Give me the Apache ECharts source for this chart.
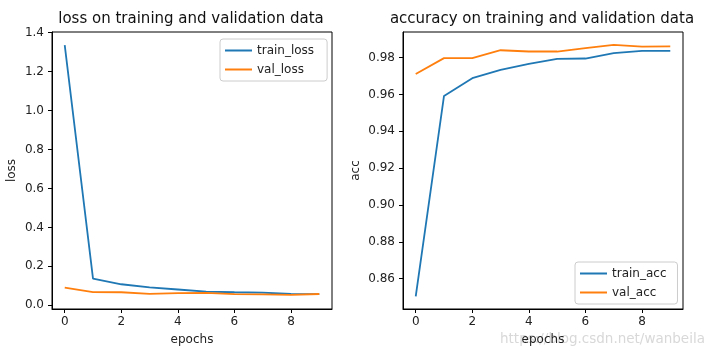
<!DOCTYPE html>
<html>
<head>
<meta charset="utf-8">
<script src="https://cdn.jsdelivr.net/npm/echarts@6/dist/echarts.min.js"></script>
<style>html,body{margin:0;padding:0;background:#fff}#c{width:710px;height:355px}</style>
</head>
<body>
<div id="c"></div>
<script>
var epochs = [0, 1, 2, 3, 4, 5, 6, 7, 8, 9];
var trainLoss = [1.336, 0.137, 0.108, 0.092, 0.081, 0.070, 0.067, 0.065, 0.058, 0.057];
var valLoss = [0.091, 0.068, 0.067, 0.059, 0.062, 0.064, 0.057, 0.056, 0.053, 0.058];
var trainAcc = [0.8504, 0.9592, 0.9688, 0.9733, 0.9766, 0.9793, 0.9795, 0.9824, 0.9836, 0.9837];
var valAcc = [0.9711, 0.9797, 0.9797, 0.9840, 0.9833, 0.9833, 0.9851, 0.9869, 0.9860, 0.9861];
var xTicks = [0, 2, 4, 6, 8];
var lossTicks = [0.0, 0.2, 0.4, 0.6, 0.8, 1.0, 1.2, 1.4];
var accTicks = [0.86, 0.88, 0.90, 0.92, 0.94, 0.96, 0.98];

function pairs(ys) { return epochs.map(function (e, i) { return [e, ys[i]]; }); }

var FONT = 'DejaVu Sans';
var txt = '#222';
var FS = 12;
function xAxis(idx) {
  return {
    type: 'value', gridIndex: idx, min: -0.45, max: 9.45,
    name: 'epochs', nameLocation: 'middle', nameGap: 25,
    nameTextStyle: { fontFamily: FONT, fontSize: FS, color: txt },
    axisLine: { show: true, onZero: false, lineStyle: { color: '#000', width: 1 } },
    axisTick: { show: true, length: 4, customValues: xTicks, lineStyle: { color: '#000' } },
    axisLabel: { customValues: xTicks, margin: 7, fontFamily: FONT, fontSize: FS, color: txt },
    splitLine: { show: false }
  };
}
function yAxis(idx, name, min, max, ticks, dec, gap) {
  return {
    type: 'value', gridIndex: idx, min: min, max: max,
    name: name, nameLocation: 'middle', nameGap: gap, nameRotate: 90,
    nameTextStyle: { fontFamily: FONT, fontSize: FS, color: txt },
    axisLine: { show: true, onZero: false, lineStyle: { color: '#000', width: 1 } },
    axisTick: { show: true, length: 4, customValues: ticks, lineStyle: { color: '#000' } },
    axisLabel: { customValues: ticks, margin: 8, fontFamily: FONT, fontSize: FS, color: txt,
      formatter: function (v) { return v.toFixed(dec); } },
    splitLine: { show: false }
  };
}
function line(name, data, color, idx) {
  return {
    type: 'line', name: name, xAxisIndex: idx, yAxisIndex: idx, data: pairs(data),
    showSymbol: false, symbol: 'none', animation: false,
    lineStyle: { color: color, width: 1.8 }, itemStyle: { color: color }
  };
}
var legendBase = {
  orient: 'vertical', icon: 'rect', itemWidth: 27, itemHeight: 2, itemGap: 4, itemTextGap: 10,
  backgroundColor: 'rgba(255,255,255,0.8)', borderColor: '#cccccc', borderWidth: 1, borderRadius: 3,
  textStyle: { fontFamily: FONT, fontSize: FS, color: txt, lineHeight: 15 }
};
var chart = echarts.init(document.getElementById('c'), null, { renderer: 'canvas' });
chart.setOption({
  animation: false,
  backgroundColor: '#fff',
  title: [
    { text: 'loss on training and validation data', left: 191, top: 12, padding: 0, textAlign: 'center',
      textStyle: { fontFamily: FONT, fontSize: 15, fontWeight: 'normal', color: '#111' } },
    { text: 'accuracy on training and validation data', left: 542, top: 12, padding: 0, textAlign: 'center',
      textStyle: { fontFamily: FONT, fontSize: 15, fontWeight: 'normal', color: '#111' } }
  ],
  grid: [
    { left: 52, top: 32, width: 280, height: 277, show: true, borderColor: '#000', borderWidth: 1, containLabel: false },
    { left: 403, top: 32, width: 280, height: 277, show: true, borderColor: '#000', borderWidth: 1, containLabel: false }
  ],
  legend: [
    Object.assign({}, legendBase, { data: ['train_loss', 'val_loss'], left: 220, top: 39, padding: [4, 13, 4, 5] }),
    Object.assign({}, legendBase, { data: ['train_acc', 'val_acc'], left: 575, top: 262, padding: [4, 11, 4, 5] })
  ],
  xAxis: [xAxis(0), xAxis(1)],
  yAxis: [
    yAxis(0, 'loss', -0.019, 1.403, lossTicks, 1, 34),
    yAxis(1, 'acc', 0.8435, 0.9939, accTicks, 2, 41)
  ],
  series: [
    line('train_loss', trainLoss, '#1f77b4', 0),
    line('val_loss', valLoss, '#ff7f0e', 0),
    line('train_acc', trainAcc, '#1f77b4', 1),
    line('val_acc', valAcc, '#ff7f0e', 1)
  ],
  graphic: [
    { type: 'text', left: 500, top: 332, silent: true,
      style: { text: 'https://blog.csdn.net/wanbeila', fontFamily: FONT, fontSize: 13.5, fill: 'rgba(200,200,200,0.7)' } }
  ]
});
</script>
</body>
</html>
